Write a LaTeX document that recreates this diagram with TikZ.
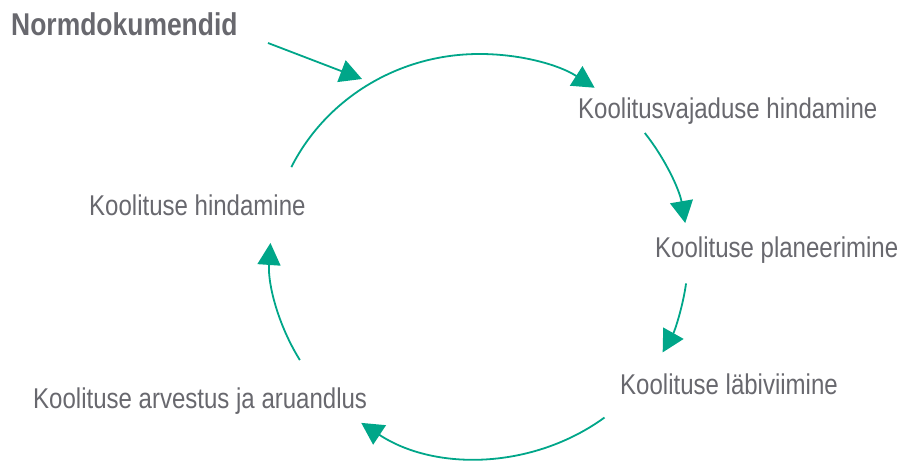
\documentclass[tikz,border=0pt]{standalone}
\usepackage{fontspec}
\setmainfont{Liberation Sans}[FakeStretch=0.84]
\usetikzlibrary{arrows.meta}
\definecolor{teal}{RGB}{0,166,137}
\definecolor{txtgrey}{RGB}{104,104,110}
\begin{document}
\begin{tikzpicture}[x=1pt,y=1pt,
  lbl/.style={inner sep=0pt,anchor=base west,text=txtgrey,font=\fontsize{28.6}{32}\selectfont},
  flow/.style={draw=teal,line width=1.8pt,-{Triangle[length=22pt,width=23pt]}}]
\useasboundingbox (0,0) rectangle (909,461);
\node[lbl,font=\fontsize{31.5}{36}\selectfont\bfseries] (norm) at (11,425) {Normdokumendid};
\node[lbl] (vaj) at (578,342) {Koolitusvajaduse hindamine};
\node[lbl] (plan) at (655,204) {Koolituse planeerimine};
\node[lbl] (labi) at (620,67) {Koolituse läbiviimine};
\node[lbl] (arv) at (33,53) {Koolituse arvestus ja aruandlus};
\node[lbl] (hind) at (89,246) {Koolituse hindamine};
\coordinate (c) at (479,205);
\coordinate (ns) at (268,418);
\coordinate (ne) at (362,382);
\tikzset{ring/.style={x radius=209,y radius=202}}
\draw[flow] ([shift={(153.9:209 and 202)}]c) arc[start angle=153.9,end angle=56.4,ring];
\draw[flow] ([shift={(37.5:209 and 202)}]c) arc[start angle=37.5,end angle=9.4,ring];
\draw[flow] ([shift={(-7.8:209 and 202)}]c) arc[start angle=-7.8,end angle=-28.5,ring];
\draw[flow] ([shift={(-53.1:209 and 202)}]c) arc[start angle=-53.1,end angle=-124.3,ring];
\draw[flow] ([shift={(211:209 and 202)}]c) arc[start angle=211,end angle=176.3,ring];
\draw[flow] (ns) -- (ne);
\end{tikzpicture}
\end{document}
